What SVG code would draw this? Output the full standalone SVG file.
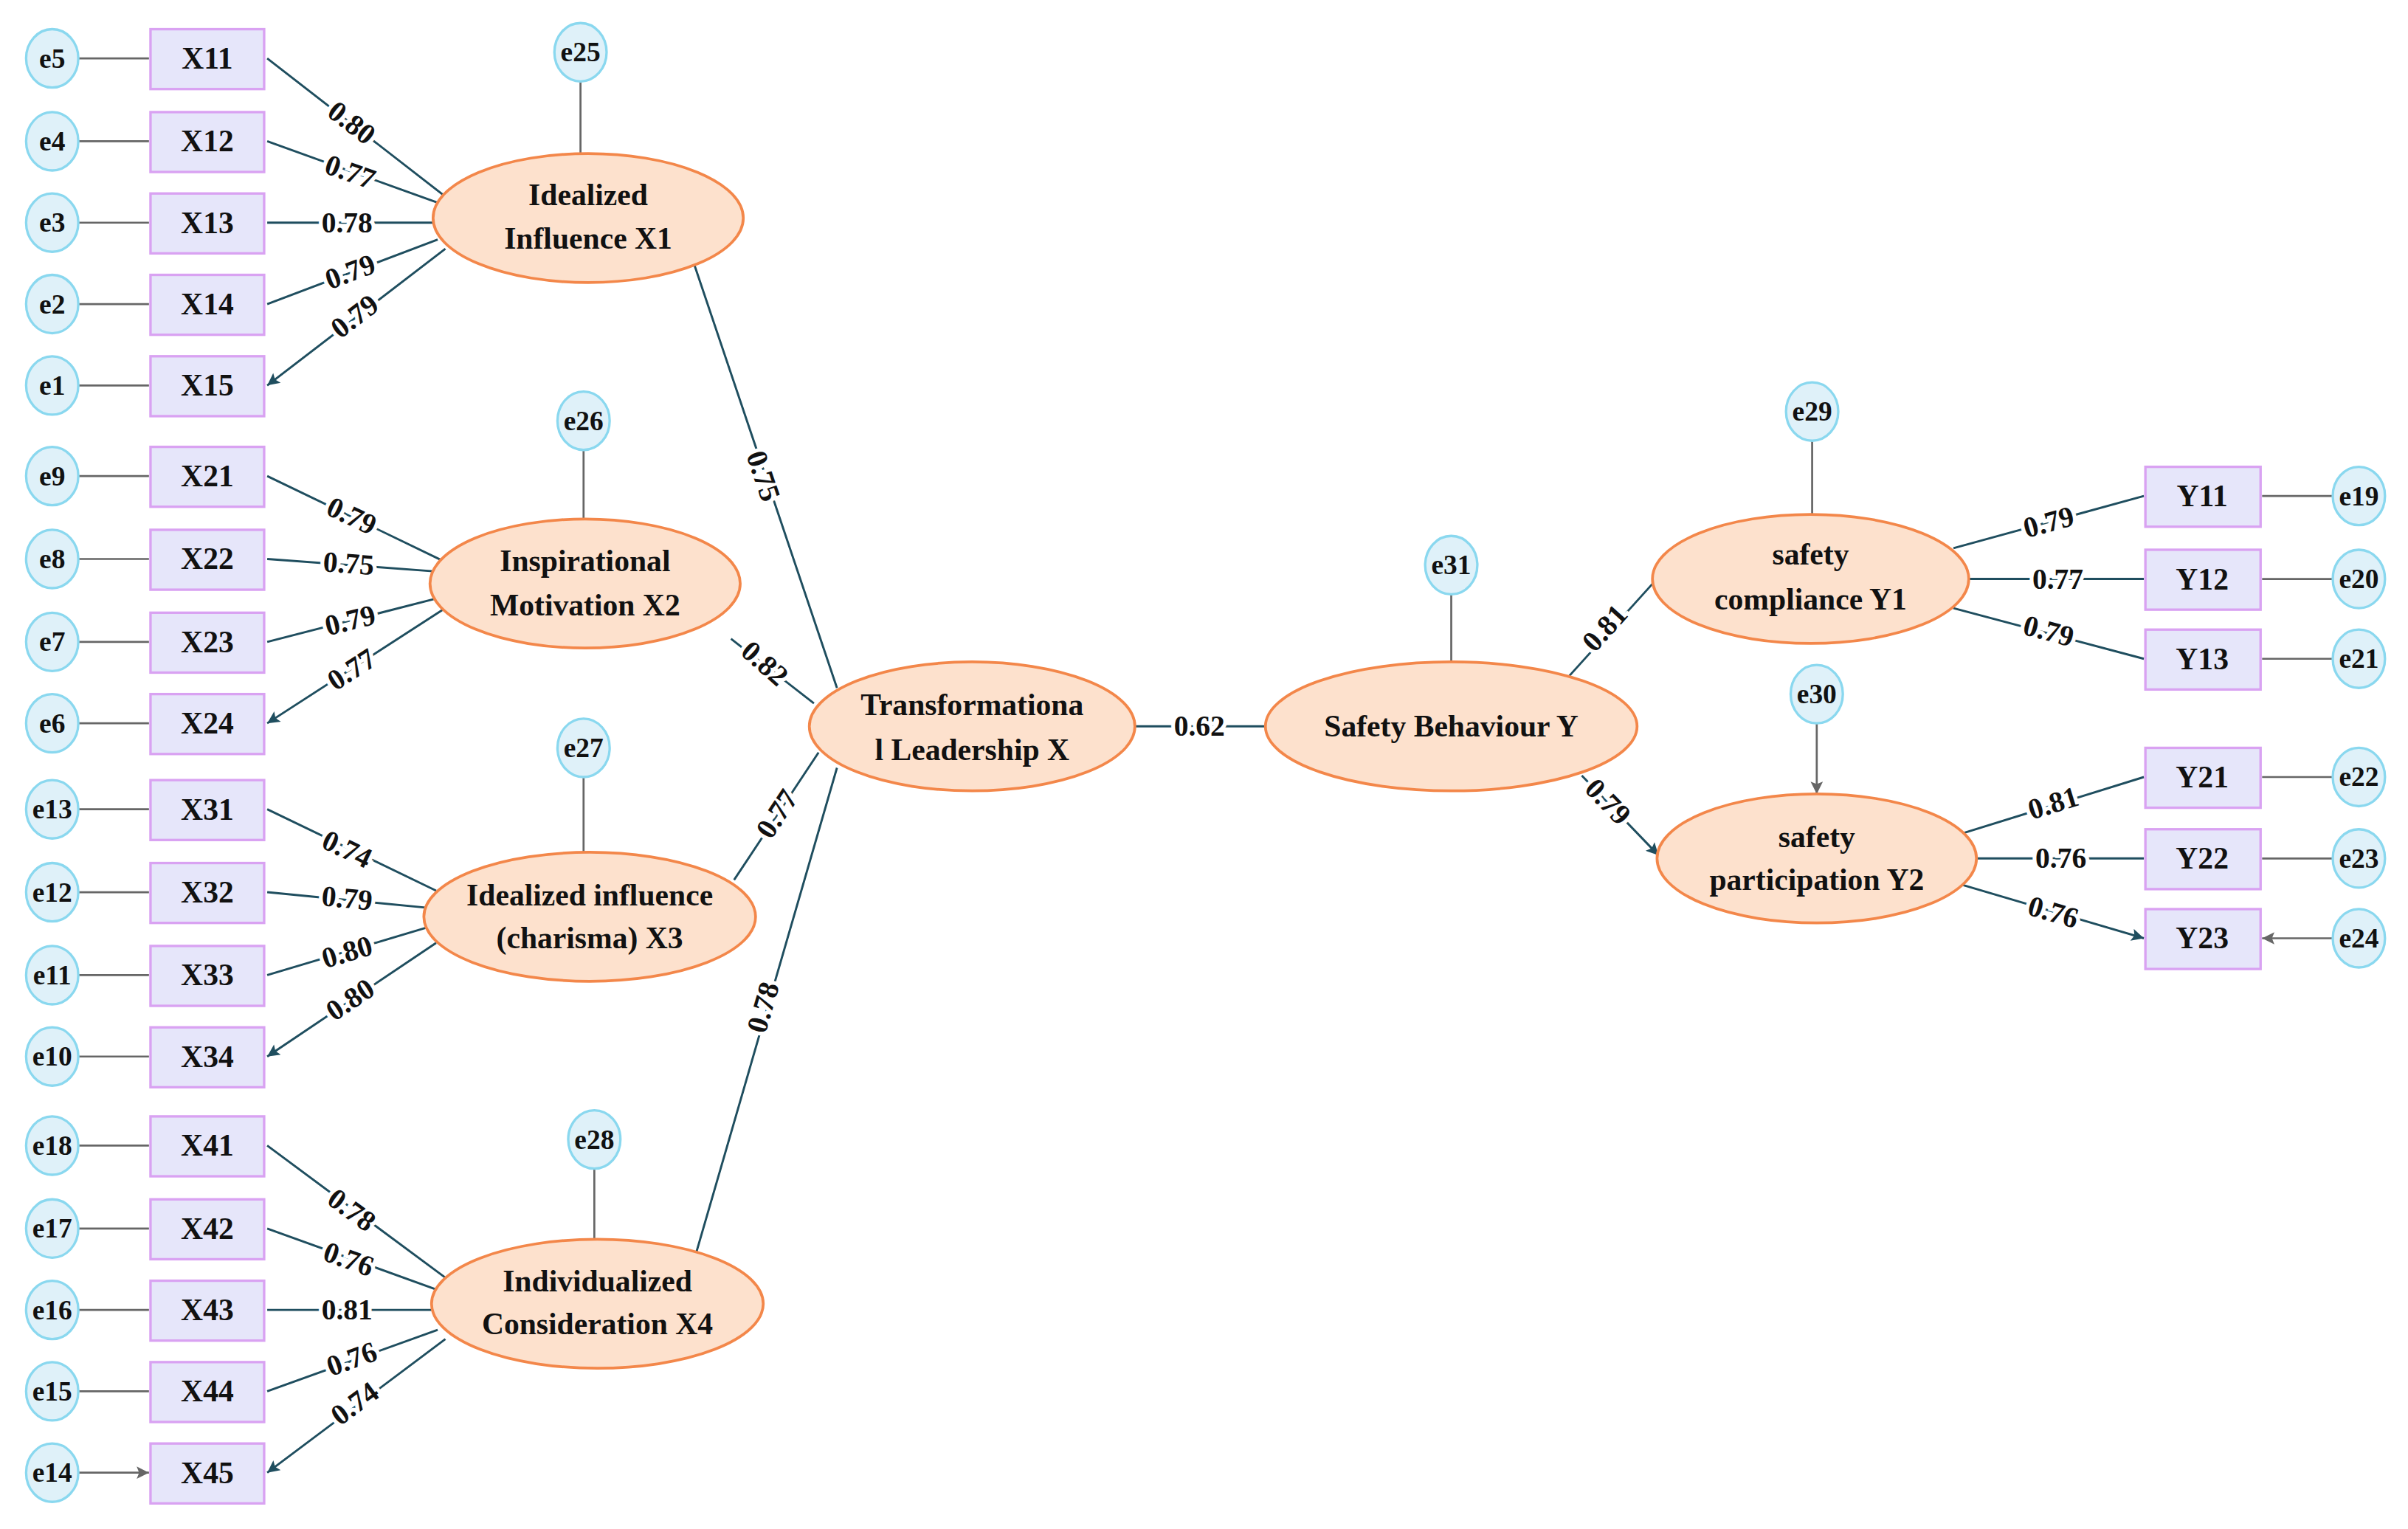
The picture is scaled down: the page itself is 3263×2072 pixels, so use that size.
<svg xmlns="http://www.w3.org/2000/svg" width="3263" height="2072" viewBox="0 0 3263 2072">
<defs>
<marker id="ad" viewBox="0 0 10 10" refX="10" refY="5" markerWidth="9" markerHeight="8" markerUnits="userSpaceOnUse" orient="auto"><path d="M0,0L10,5L0,10L2,5z" fill="#1f4e5f"/></marker>
<marker id="ag" viewBox="0 0 10 10" refX="10" refY="5" markerWidth="9" markerHeight="8" markerUnits="userSpaceOnUse" orient="auto"><path d="M0,0L10,5L0,10L2,5z" fill="#666"/></marker>
</defs>
<style>
.e{fill:#dff1f9;stroke:#8ad8ef;stroke-width:1.6}
.r{fill:#e6e6fa;stroke:#d9a2f2;stroke-width:1.6}
.l{fill:#fde1cd;stroke:#f3874a;stroke-width:1.8}
.t{font-family:"Liberation Serif",serif;font-weight:bold;font-size:20px;fill:#111;text-anchor:middle;dominant-baseline:central}
.s{font-size:18px}
.g{stroke:#666;stroke-width:1.3;fill:none;marker-end:url(#ag)}
.d{stroke:#1f4e5f;stroke-width:1.4;fill:none;marker-end:url(#ad)}
.n{font-family:"Liberation Serif",serif;font-weight:bold;font-size:19px;fill:#111;text-anchor:middle;dominant-baseline:central;stroke:#fff;stroke-width:5;paint-order:stroke}
</style>
<rect width="3263" height="2072" fill="#fff"/>
<g transform="scale(2.081)">
<g id="connectors">
<!-- e to X -->
<path class="g" d="M51,38H97M51,92H97M51,145H97M51,198H97M51,251H97M51,310H97M51,364H97M51,418H97M51,471H97M51,527H97M51,581H97M51,635H97M51,688H97M51,746H97M51,800H97M51,853H97M51,906H97M51,959H97"/>
<path class="g" d="M1519,323H1473M1519,377H1473M1519,429H1473M1519,506H1473M1519,559H1473M1519,611H1473"/>
<path class="g" d="M378,53V100M380,293V338M380,506V555M387,761V807M945,387V431M1180,287V335M1183,471V517"/>
<!-- loadings -->
<path class="d" d="M290,128L174,38M285,132L174,92M282,145L174,145M285,156L174,198M290,162L174,251"/>
<path class="d" d="M288,365L174,310M282,372L174,364M283,390L174,418M290,396L174,471"/>
<path class="d" d="M284,580L174,527M277,591L174,581M278,604L174,635M284,614L174,688"/>
<path class="d" d="M290,832L174,746M285,840L174,800M281,853L174,853M285,866L174,906M290,872L174,959"/>
<path class="d" d="M1272,357L1396,323M1282,377L1396,377M1272,396L1396,429M1277,543L1396,506M1287,559L1396,559M1277,576L1396,611"/>
<path class="d" d="M545,448L452,172M530,458L476,416M533,490L478,573M545,500L453,817M739,473L824,473M1022,440L1078,378M1030,505L1080,557"/>
<g>
<text class="n" transform="translate(229,80) rotate(37.6)">0.80</text>
<text class="n" transform="translate(228,112) rotate(19.7)">0.77</text>
<text class="n" x="226" y="145">0.78</text>
<text class="n" transform="translate(228,177) rotate(-20.6)">0.79</text>
<text class="n" transform="translate(231,206) rotate(-37.3)">0.79</text>
<text class="n" transform="translate(229,336) rotate(25.6)">0.79</text>
<text class="n" transform="translate(227,367) rotate(4.2)">0.75</text>
<text class="n" transform="translate(228,404) rotate(-14.3)">0.79</text>
<text class="n" transform="translate(229,436) rotate(-32.7)">0.77</text>
<text class="n" transform="translate(226,553) rotate(25.5)">0.74</text>
<text class="n" transform="translate(226,585) rotate(5.5)">0.79</text>
<text class="n" transform="translate(226,620) rotate(-16.5)">0.80</text>
<text class="n" transform="translate(228,651) rotate(-33.7)">0.80</text>
<text class="n" transform="translate(229,788) rotate(36.3)">0.78</text>
<text class="n" transform="translate(227,820) rotate(19.7)">0.76</text>
<text class="n" x="226" y="853">0.81</text>
<text class="n" transform="translate(229,885) rotate(-19.7)">0.76</text>
<text class="n" transform="translate(231,914) rotate(-36.6)">0.74</text>
<text class="n" transform="translate(1334,340) rotate(-15.2)">0.79</text>
<text class="n" x="1340" y="377">0.77</text>
<text class="n" transform="translate(1334,411) rotate(14.8)">0.79</text>
<text class="n" transform="translate(1337,523) rotate(-17.1)">0.81</text>
<text class="n" x="1342" y="559">0.76</text>
<text class="n" transform="translate(1337,594) rotate(16.3)">0.76</text>
<text class="n" transform="translate(497,310) rotate(71.4)">0.75</text>
<text class="n" transform="translate(498,432) rotate(41.6)">0.82</text>
<text class="n" transform="translate(506,530) rotate(-56.5)">0.77</text>
<text class="n" transform="translate(497,656) rotate(-73.8)">0.78</text>
<text class="n" x="781" y="473">0.62</text>
<text class="n" transform="translate(1045,409) rotate(-47.9)">0.81</text>
<text class="n" transform="translate(1047,522) rotate(46)">0.79</text>
</g>
</g>
<!-- error nodes -->
<g id="e5"><ellipse class="e" cx="34" cy="38" rx="17" ry="19"/><text class="t s" x="34" y="38">e5</text></g>
<g id="e4"><ellipse class="e" cx="34" cy="92" rx="17" ry="19"/><text class="t s" x="34" y="92">e4</text></g>
<g id="e3"><ellipse class="e" cx="34" cy="145" rx="17" ry="19"/><text class="t s" x="34" y="145">e3</text></g>
<g id="e2"><ellipse class="e" cx="34" cy="198" rx="17" ry="19"/><text class="t s" x="34" y="198">e2</text></g>
<g id="e1"><ellipse class="e" cx="34" cy="251" rx="17" ry="19"/><text class="t s" x="34" y="251">e1</text></g>
<g id="e9"><ellipse class="e" cx="34" cy="310" rx="17" ry="19"/><text class="t s" x="34" y="310">e9</text></g>
<g id="e8"><ellipse class="e" cx="34" cy="364" rx="17" ry="19"/><text class="t s" x="34" y="364">e8</text></g>
<g id="e7"><ellipse class="e" cx="34" cy="418" rx="17" ry="19"/><text class="t s" x="34" y="418">e7</text></g>
<g id="e6"><ellipse class="e" cx="34" cy="471" rx="17" ry="19"/><text class="t s" x="34" y="471">e6</text></g>
<g id="e13"><ellipse class="e" cx="34" cy="527" rx="17" ry="19"/><text class="t s" x="34" y="527">e13</text></g>
<g id="e12"><ellipse class="e" cx="34" cy="581" rx="17" ry="19"/><text class="t s" x="34" y="581">e12</text></g>
<g id="e11"><ellipse class="e" cx="34" cy="635" rx="17" ry="19"/><text class="t s" x="34" y="635">e11</text></g>
<g id="e10"><ellipse class="e" cx="34" cy="688" rx="17" ry="19"/><text class="t s" x="34" y="688">e10</text></g>
<g id="e18"><ellipse class="e" cx="34" cy="746" rx="17" ry="19"/><text class="t s" x="34" y="746">e18</text></g>
<g id="e17"><ellipse class="e" cx="34" cy="800" rx="17" ry="19"/><text class="t s" x="34" y="800">e17</text></g>
<g id="e16"><ellipse class="e" cx="34" cy="853" rx="17" ry="19"/><text class="t s" x="34" y="853">e16</text></g>
<g id="e15"><ellipse class="e" cx="34" cy="906" rx="17" ry="19"/><text class="t s" x="34" y="906">e15</text></g>
<g id="e14"><ellipse class="e" cx="34" cy="959" rx="17" ry="19"/><text class="t s" x="34" y="959">e14</text></g>
<g id="e19"><ellipse class="e" cx="1536" cy="323" rx="17" ry="19"/><text class="t s" x="1536" y="323">e19</text></g>
<g id="e20"><ellipse class="e" cx="1536" cy="377" rx="17" ry="19"/><text class="t s" x="1536" y="377">e20</text></g>
<g id="e21"><ellipse class="e" cx="1536" cy="429" rx="17" ry="19"/><text class="t s" x="1536" y="429">e21</text></g>
<g id="e22"><ellipse class="e" cx="1536" cy="506" rx="17" ry="19"/><text class="t s" x="1536" y="506">e22</text></g>
<g id="e23"><ellipse class="e" cx="1536" cy="559" rx="17" ry="19"/><text class="t s" x="1536" y="559">e23</text></g>
<g id="e24"><ellipse class="e" cx="1536" cy="611" rx="17" ry="19"/><text class="t s" x="1536" y="611">e24</text></g>
<g id="e25"><ellipse class="e" cx="378" cy="34" rx="17" ry="19"/><text class="t s" x="378" y="34">e25</text></g>
<g id="e26"><ellipse class="e" cx="380" cy="274" rx="17" ry="19"/><text class="t s" x="380" y="274">e26</text></g>
<g id="e27"><ellipse class="e" cx="380" cy="487" rx="17" ry="19"/><text class="t s" x="380" y="487">e27</text></g>
<g id="e28"><ellipse class="e" cx="387" cy="742" rx="17" ry="19"/><text class="t s" x="387" y="742">e28</text></g>
<g id="e31"><ellipse class="e" cx="945" cy="368" rx="17" ry="19"/><text class="t s" x="945" y="368">e31</text></g>
<g id="e29"><ellipse class="e" cx="1180" cy="268" rx="17" ry="19"/><text class="t s" x="1180" y="268">e29</text></g>
<g id="e30"><ellipse class="e" cx="1183" cy="452" rx="17" ry="19"/><text class="t s" x="1183" y="452">e30</text></g>
<!-- observed -->
<g id="X11"><rect class="r" x="98" y="19" width="74" height="39"/><text class="t" x="135" y="38">X11</text></g>
<g id="X12"><rect class="r" x="98" y="73" width="74" height="39"/><text class="t" x="135" y="92">X12</text></g>
<g id="X13"><rect class="r" x="98" y="126" width="74" height="39"/><text class="t" x="135" y="145">X13</text></g>
<g id="X14"><rect class="r" x="98" y="179" width="74" height="39"/><text class="t" x="135" y="198">X14</text></g>
<g id="X15"><rect class="r" x="98" y="232" width="74" height="39"/><text class="t" x="135" y="251">X15</text></g>
<g id="X21"><rect class="r" x="98" y="291" width="74" height="39"/><text class="t" x="135" y="310">X21</text></g>
<g id="X22"><rect class="r" x="98" y="345" width="74" height="39"/><text class="t" x="135" y="364">X22</text></g>
<g id="X23"><rect class="r" x="98" y="399" width="74" height="39"/><text class="t" x="135" y="418">X23</text></g>
<g id="X24"><rect class="r" x="98" y="452" width="74" height="39"/><text class="t" x="135" y="471">X24</text></g>
<g id="X31"><rect class="r" x="98" y="508" width="74" height="39"/><text class="t" x="135" y="527">X31</text></g>
<g id="X32"><rect class="r" x="98" y="562" width="74" height="39"/><text class="t" x="135" y="581">X32</text></g>
<g id="X33"><rect class="r" x="98" y="616" width="74" height="39"/><text class="t" x="135" y="635">X33</text></g>
<g id="X34"><rect class="r" x="98" y="669" width="74" height="39"/><text class="t" x="135" y="688">X34</text></g>
<g id="X41"><rect class="r" x="98" y="727" width="74" height="39"/><text class="t" x="135" y="746">X41</text></g>
<g id="X42"><rect class="r" x="98" y="781" width="74" height="39"/><text class="t" x="135" y="800">X42</text></g>
<g id="X43"><rect class="r" x="98" y="834" width="74" height="39"/><text class="t" x="135" y="853">X43</text></g>
<g id="X44"><rect class="r" x="98" y="887" width="74" height="39"/><text class="t" x="135" y="906">X44</text></g>
<g id="X45"><rect class="r" x="98" y="940" width="74" height="39"/><text class="t" x="135" y="959">X45</text></g>
<g id="Y11"><rect class="r" x="1397" y="304" width="75" height="39"/><text class="t" x="1434" y="323">Y11</text></g>
<g id="Y12"><rect class="r" x="1397" y="358" width="75" height="39"/><text class="t" x="1434" y="377">Y12</text></g>
<g id="Y13"><rect class="r" x="1397" y="410" width="75" height="39"/><text class="t" x="1434" y="429">Y13</text></g>
<g id="Y21"><rect class="r" x="1397" y="487" width="75" height="39"/><text class="t" x="1434" y="506">Y21</text></g>
<g id="Y22"><rect class="r" x="1397" y="540" width="75" height="39"/><text class="t" x="1434" y="559">Y22</text></g>
<g id="Y23"><rect class="r" x="1397" y="592" width="75" height="39"/><text class="t" x="1434" y="611">Y23</text></g>
<!-- latent -->
<g id="X1"><ellipse class="l" cx="383" cy="142" rx="101" ry="42"/><text class="t" x="383" y="127">Idealized</text><text class="t" x="383" y="155">Influence X1</text></g>
<g id="X2"><ellipse class="l" cx="381" cy="380" rx="101" ry="42"/><text class="t" x="381" y="365">Inspirational</text><text class="t" x="381" y="394">Motivation X2</text></g>
<g id="X3"><ellipse class="l" cx="384" cy="597" rx="108" ry="42"/><text class="t" x="384" y="583">Idealized influence</text><text class="t" x="384" y="611">(charisma) X3</text></g>
<g id="X4"><ellipse class="l" cx="389" cy="849" rx="108" ry="42"/><text class="t" x="389" y="834">Individualized</text><text class="t" x="389" y="862">Consideration X4</text></g>
<g id="X"><ellipse class="l" cx="633" cy="473" rx="106" ry="42"/><text class="t" x="633" y="459">Transformationa</text><text class="t" x="633" y="488">l Leadership X</text></g>
<g id="Y"><ellipse class="l" cx="945" cy="473" rx="121" ry="42"/><text class="t" x="945" y="473">Safety Behaviour Y</text></g>
<g id="Y1"><ellipse class="l" cx="1179" cy="377" rx="103" ry="42"/><text class="t" x="1179" y="361">safety</text><text class="t" x="1179" y="390">compliance Y1</text></g>
<g id="Y2"><ellipse class="l" cx="1183" cy="559" rx="104" ry="42"/><text class="t" x="1183" y="545">safety</text><text class="t" x="1183" y="573">participation Y2</text></g>
</g>
</svg>
